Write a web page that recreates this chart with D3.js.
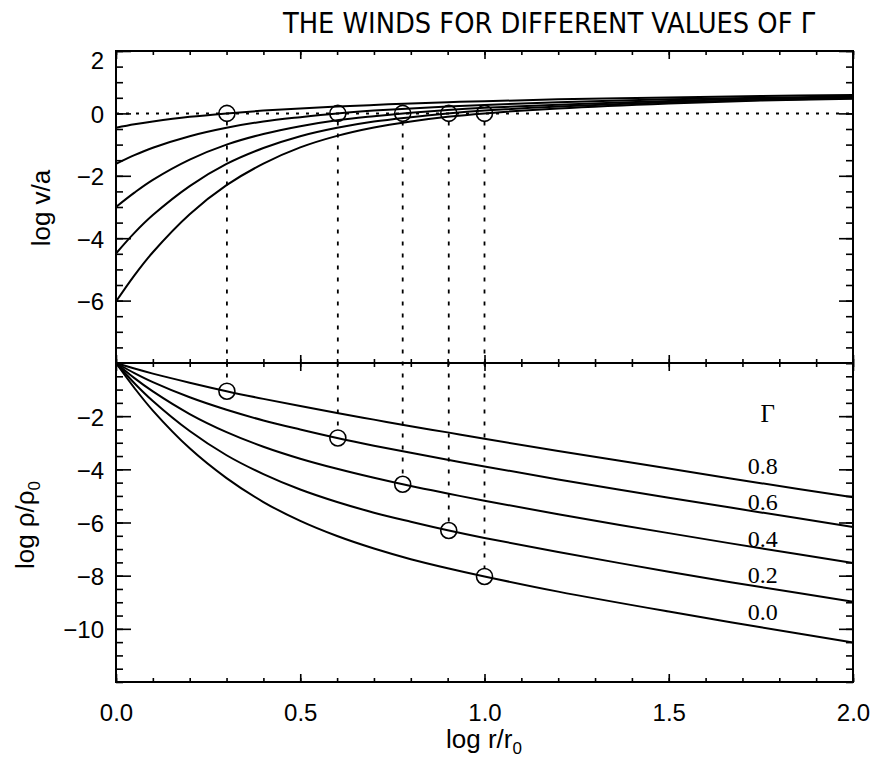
<!DOCTYPE html>
<html>
<head>
<meta charset="utf-8">
<script src="https://cdn.jsdelivr.net/npm/d3@7"></script>
<style>
  html, body { margin: 0; padding: 0; background: #fff; }
  svg { display: block; }
</style>
</head>
<body>
<svg id="chart" width="876" height="762"></svg>
<script>
// log r/r0 sample positions shared by every curve
const logR = [0, 0.05, 0.1, 0.2, 0.3, 0.4, 0.5, 0.6, 0.7, 0.8, 0.9, 1.0, 1.2, 1.5, 1.75, 2.0];

// Gamma values, one curve per value
const gammaLabels = ["0.0", "0.2", "0.4", "0.6", "0.8"];

// log v/a for each Gamma
const velG00 = [-6.03, -5.19, -4.45, -3.23, -2.30, -1.61, -1.09, -0.72, -0.45, -0.26, -0.11, 0.00, 0.16, 0.32, 0.41, 0.47];
const velG02 = [-4.49, -3.83, -3.26, -2.33, -1.62, -1.11, -0.73, -0.46, -0.26, -0.12, -0.003, 0.09, 0.22, 0.36, 0.43, 0.49];
const velG04 = [-3.00, -2.54, -2.13, -1.48, -1.00, -0.66, -0.41, -0.22, -0.09, 0.02, 0.11, 0.18, 0.28, 0.40, 0.47, 0.52];
const velG06 = [-1.62, -1.34, -1.10, -0.73, -0.46, -0.26, -0.12, 0.00, 0.09, 0.16, 0.22, 0.27, 0.36, 0.45, 0.50, 0.55];
const velG08 = [-0.46, -0.35, -0.26, -0.11, 0.00, 0.09, 0.16, 0.22, 0.27, 0.32, 0.36, 0.39, 0.45, 0.51, 0.56, 0.59];

// log rho/rho0 for each Gamma
const rhoG00 = [0, -0.94, -1.79, -3.21, -4.33, -5.23, -5.94, -6.51, -6.98, -7.38, -7.72, -8.03, -8.60, -9.35, -9.94, -10.51];
const rhoG02 = [0, -0.76, -1.43, -2.56, -3.47, -4.18, -4.76, -5.23, -5.63, -5.97, -6.29, -6.58, -7.11, -7.85, -8.43, -8.98];
const rhoG04 = [0, -0.57, -1.07, -1.92, -2.60, -3.15, -3.60, -3.98, -4.32, -4.63, -4.91, -5.18, -5.69, -6.40, -6.97, -7.52];
const rhoG06 = [0, -0.38, -0.72, -1.29, -1.76, -2.16, -2.50, -2.82, -3.11, -3.38, -3.64, -3.89, -4.38, -5.07, -5.62, -6.17];
const rhoG08 = [0, -0.21, -0.40, -0.74, -1.06, -1.35, -1.62, -1.88, -2.13, -2.38, -2.61, -2.85, -3.31, -3.97, -4.52, -5.05];

// sonic points (v = a) for each Gamma
const sonicLogR = [1.0, 0.903, 0.778, 0.602, 0.301];
const sonicLogRho = [-8.03, -6.30, -4.56, -2.82, -1.06];

// where the Gamma labels sit, in data units of the density panel
const labelLogR = 1.755;
const labelLogRho = [-9.35, -7.95, -6.60, -5.20, -3.85];
const labelHeaderLogRho = -1.88;

// axis ticks
const xMajor = [0, 0.5, 1.0, 1.5, 2.0];
const xMinor = d3.range(0, 2.0001, 0.1);
const xTickLabels = ["0.0", "0.5", "1.0", "1.5", "2.0"];
const vMajor = [-6, -4, -2, 0, 2];
const vMinor = d3.range(-8, 2.0001, 0.5);
const rhoMajor = [-10, -8, -6, -4, -2];
const rhoMinor = d3.range(-12, 0.0001, 0.5);

const velSeries = [velG00, velG02, velG04, velG06, velG08];
const rhoSeries = [rhoG00, rhoG02, rhoG04, rhoG06, rhoG08];

const svg = d3.select("#chart");
const sans = "'Liberation Sans', Arial, Helvetica, sans-serif";
const serif = "'Liberation Serif', 'Times New Roman', serif";

const x = d3.scaleLinear().domain([0, 2]).range([116, 853]);
const yV = d3.scaleLinear().domain([-8, 2]).range([363, 51]);
const yD = d3.scaleLinear().domain([-12, 0]).range([682, 363]);

const minus = s => String(s).replace("-", "\u2212");

// ---- title ----
svg.append("text")
  .attr("x", 549).attr("y", 33)
  .attr("text-anchor", "middle")
  .attr("font-family", "'Liberation Sans Narrow', 'DejaVu Sans Condensed', sans-serif")
  .attr("font-size", 29)
  .attr("textLength", 532)
  .attr("lengthAdjust", "spacingAndGlyphs")
  .text("THE WINDS FOR DIFFERENT VALUES OF \u0393");

// ---- axes helper ----
function drawAxis(gen, scale, values, size, transform, fmt) {
  const a = gen(scale).tickValues(values).tickSizeInner(size).tickSizeOuter(0);
  if (fmt) a.tickFormat(fmt); else a.tickFormat("");
  const g = svg.append("g").attr("transform", transform).call(a);
  g.select(".domain").remove();
  g.selectAll(".tick line").attr("stroke", "#000").attr("stroke-width", 1.6);
  return g;
}

// top panel
drawAxis(d3.axisLeft, yV, vMinor, -7, "translate(116,0)");
const gVL = drawAxis(d3.axisLeft, yV, vMajor, -15, "translate(116,0)", d => minus(d));
drawAxis(d3.axisRight, yV, vMinor, -7, "translate(853,0)");
drawAxis(d3.axisRight, yV, vMajor, -14, "translate(853,0)");
drawAxis(d3.axisTop, x, xMinor, -4, "translate(0,51)");
drawAxis(d3.axisTop, x, xMajor, -8, "translate(0,51)");
drawAxis(d3.axisBottom, x, xMinor, -4, "translate(0,363)");
drawAxis(d3.axisBottom, x, xMajor, -8, "translate(0,363)");

// bottom panel
drawAxis(d3.axisLeft, yD, rhoMinor, -7, "translate(116,0)");
const gDL = drawAxis(d3.axisLeft, yD, rhoMajor, -15, "translate(116,0)", d => minus(d));
drawAxis(d3.axisRight, yD, rhoMinor, -7, "translate(853,0)");
drawAxis(d3.axisRight, yD, rhoMajor, -14, "translate(853,0)");
drawAxis(d3.axisTop, x, xMinor, -4, "translate(0,363)");
drawAxis(d3.axisTop, x, xMajor, -8, "translate(0,363)");
drawAxis(d3.axisBottom, x, xMinor, -4, "translate(0,682)");
const gX = drawAxis(d3.axisBottom, x, xMajor, -8, "translate(0,682)", (d, i) => xTickLabels[i]);

[gVL, gDL].forEach(g => {
  g.selectAll(".tick text")
    .attr("x", -12).attr("dy", "0.38em")
    .attr("font-family", sans).attr("font-size", 24).attr("fill", "#000");
});
gVL.selectAll(".tick text").filter(d => d === 2).attr("dy", "0.72em");
gX.selectAll(".tick text")
  .attr("y", 22).attr("dy", "0.71em")
  .attr("font-family", sans).attr("font-size", 24).attr("fill", "#000");

// frames
[[51, 363], [363, 682]].forEach(([t, b]) => {
  svg.append("rect")
    .attr("x", x(0)).attr("y", t)
    .attr("width", x(2) - x(0)).attr("height", b - t)
    .attr("fill", "none").attr("stroke", "#000").attr("stroke-width", 2);
});

// axis titles
svg.append("text")
  .attr("transform", "translate(50,208) rotate(-90)")
  .attr("text-anchor", "middle")
  .attr("font-family", sans).attr("font-size", 26)
  .text("log v/a");

const rhoTitle = svg.append("text")
  .attr("transform", "translate(34,525) rotate(-90)")
  .attr("text-anchor", "middle")
  .attr("font-family", sans).attr("font-size", 26);
rhoTitle.append("tspan").text("log \u03c1/\u03c1");
rhoTitle.append("tspan").attr("font-size", 17).attr("dy", 6).text("0");

const xTitle = svg.append("text")
  .attr("x", 484).attr("y", 748)
  .attr("text-anchor", "middle")
  .attr("font-family", sans).attr("font-size", 26);
xTitle.append("tspan").text("log r/r");
xTitle.append("tspan").attr("font-size", 17).attr("dy", 6).text("0");

// ---- sonic level and sonic-point guides ----
svg.append("line")
  .attr("x1", x(0)).attr("x2", x(2))
  .attr("y1", yV(0)).attr("y2", yV(0))
  .attr("stroke", "#000").attr("stroke-width", 2)
  .attr("stroke-dasharray", "3,7");

sonicLogR.forEach((r, i) => {
  svg.append("line")
    .attr("x1", x(r)).attr("x2", x(r))
    .attr("y1", yV(0) + 8).attr("y2", yD(sonicLogRho[i]) - 8)
    .attr("stroke", "#000").attr("stroke-width", 1.8)
    .attr("stroke-dasharray", "4,8");
});

// ---- curves ----
const lineV = d3.line().x(d => x(d[0])).y(d => yV(d[1])).curve(d3.curveCatmullRom.alpha(0.5));
const lineD = d3.line().x(d => x(d[0])).y(d => yD(d[1])).curve(d3.curveCatmullRom.alpha(0.5));

velSeries.forEach(vals => {
  svg.append("path")
    .datum(logR.map((r, j) => [r, vals[j]]))
    .attr("d", lineV)
    .attr("fill", "none").attr("stroke", "#000").attr("stroke-width", 2);
});
rhoSeries.forEach(vals => {
  svg.append("path")
    .datum(logR.map((r, j) => [r, vals[j]]))
    .attr("d", lineD)
    .attr("fill", "none").attr("stroke", "#000").attr("stroke-width", 2);
});

// ---- sonic-point markers ----
sonicLogR.forEach((r, i) => {
  svg.append("circle")
    .attr("cx", x(r)).attr("cy", yV(0)).attr("r", 8)
    .attr("fill", "none").attr("stroke", "#000").attr("stroke-width", 1.6);
  svg.append("circle")
    .attr("cx", x(r)).attr("cy", yD(sonicLogRho[i])).attr("r", 8)
    .attr("fill", "none").attr("stroke", "#000").attr("stroke-width", 1.6);
});

// ---- Gamma labels ----
svg.append("text")
  .attr("x", x(labelLogR) + 5).attr("y", yD(labelHeaderLogRho))
  .attr("dy", "0.35em").attr("text-anchor", "middle")
  .attr("font-family", serif).attr("font-size", 25)
  .text("\u0393");
gammaLabels.forEach((lab, i) => {
  svg.append("text")
    .attr("x", x(labelLogR)).attr("y", yD(labelLogRho[i]))
    .attr("dy", "0.35em").attr("text-anchor", "middle")
    .attr("font-family", serif).attr("font-size", 24)
    .text(lab);
});
</script>
</body>
</html>
